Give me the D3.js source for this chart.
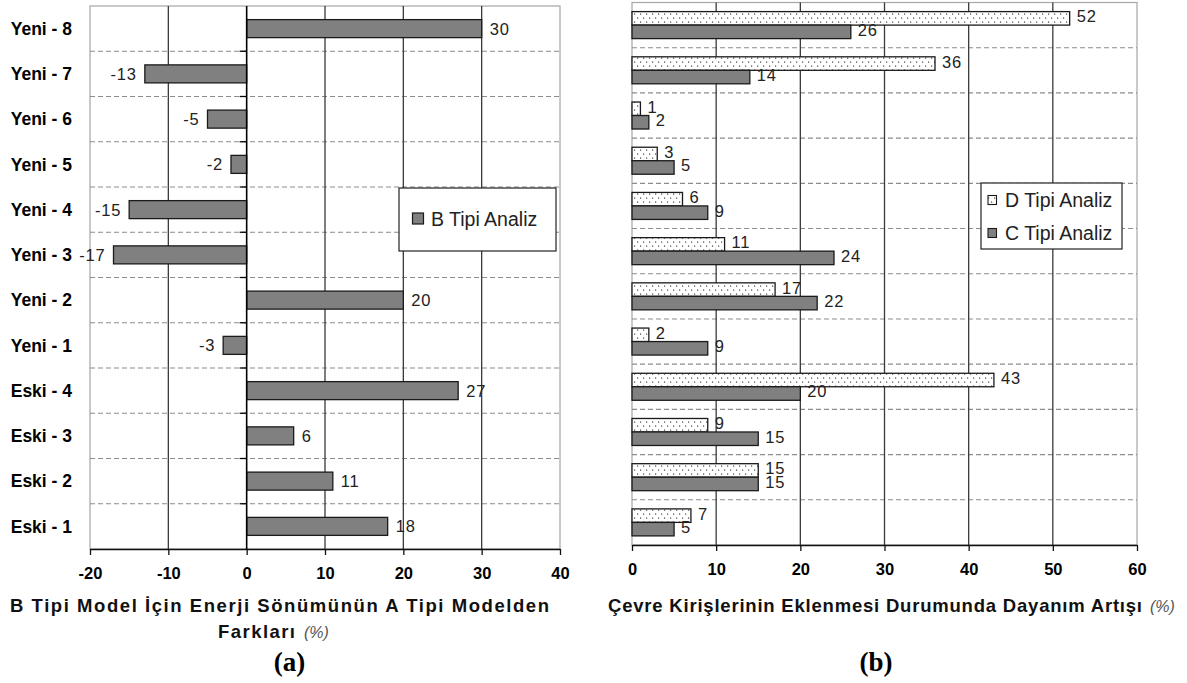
<!DOCTYPE html>
<html>
<head>
<meta charset="utf-8">
<script src="https://cdn.jsdelivr.net/npm/d3@7"></script>
<style>
  html, body { margin: 0; padding: 0; background: #fff; }
  svg { display: block; font-family: "Liberation Sans", Arial, sans-serif; }
</style>
</head>
<body>
<svg id="fig" width="1187" height="683"></svg>
<script>
// Categories, top to bottom
const categories = ["Yeni - 8", "Yeni - 7", "Yeni - 6", "Yeni - 5", "Yeni - 4", "Yeni - 3",
                    "Yeni - 2", "Yeni - 1", "Eski - 4", "Eski - 3", "Eski - 2", "Eski - 1"];

// (a) energy dissipation difference of type B model vs type A model (%)
const bTipi = [30, -13, -5, -2, -15, -17, 20, -3, 27, 6, 11, 18];

// (b) strength increase after adding perimeter beams (%)
const dTipi = [52, 36, 1, 3, 6, 11, 17, 2, 43, 9, 15, 7];
const cTipi = [26, 14, 2, 5, 9, 24, 22, 9, 20, 15, 15, 5];

const ticksA = [-20, -10, 0, 10, 20, 30, 40];
const ticksB = [0, 10, 20, 30, 40, 50, 60];

const seriesB = [
  { key: "D", name: "D Tipi Analiz", values: dTipi },
  { key: "C", name: "C Tipi Analiz", values: cTipi }
];

const svg = d3.select("#fig");
const FONT = "'Liberation Sans', Arial, sans-serif";
const BAR_FILL = "#808080";
const BAR_STROKE = "#1a1a1a";
const GRID = "#3a3a3a";
const BORDER = "#a6a6a6";
const DASH = "#8c8c8c";

// dotted fill used for the D series
const defs = svg.append("defs");
const pat = defs.append("pattern")
  .attr("id", "dots").attr("patternUnits", "userSpaceOnUse")
  .attr("width", 6).attr("height", 8);
pat.append("rect").attr("width", 6).attr("height", 8).attr("fill", "#fff");
pat.append("rect").attr("x", 1).attr("y", 1.5).attr("width", 1.2).attr("height", 1.2).attr("fill", "#444");
pat.append("rect").attr("x", 4).attr("y", 5.5).attr("width", 1.2).attr("height", 1.2).attr("fill", "#444");

function frame(g, x, y, ticks, zeroAxis) {
  const [x0, x1] = x.range();
  const [y0, y1] = y.range();
  // plot border
  g.append("rect").attr("x", x0).attr("y", y0).attr("width", x1 - x0).attr("height", y1 - y0)
    .attr("fill", "none").attr("stroke", BORDER).attr("stroke-width", 1.2);
  // dashed row separators
  g.selectAll(".sep").data(y.domain().slice(1)).join("line")
    .attr("x1", x0).attr("x2", x1)
    .attr("y1", d => y(d)).attr("y2", d => y(d))
    .attr("stroke", DASH).attr("stroke-width", 1.1).attr("stroke-dasharray", "5,3");
  // vertical grid at inner ticks
  g.selectAll(".vg").data(ticks.slice(1, -1).filter(t => t !== zeroAxis)).join("line")
    .attr("x1", d => x(d)).attr("x2", d => x(d))
    .attr("y1", y0).attr("y2", y1)
    .attr("stroke", GRID).attr("stroke-width", 1.3);
  // value axis
  const ax = g.append("g").attr("transform", `translate(0,${y1})`)
    .call(d3.axisBottom(x).tickValues(ticks).tickFormat(d => String(d))
      .tickSize(6).tickSizeOuter(0).tickPadding(12));
  ax.select(".domain").attr("stroke", "#111").attr("stroke-width", 1.3);
  ax.selectAll(".tick line").attr("stroke", "#111").attr("stroke-width", 1.3);
  ax.selectAll(".tick text").attr("font-family", FONT).attr("font-size", 16.5)
    .attr("font-weight", "bold").attr("fill", "#000");
}

// ---------- (a) ----------
const xA = d3.scaleLinear().domain([-20, 40]).range([90, 560]);
const yA = d3.scaleBand().domain(categories).range([6, 549]).padding(0);
const gA = svg.append("g");
frame(gA, xA, yA, ticksA, 0);

const barH = 18;
gA.selectAll(".bar").data(categories).join("rect")
  .attr("x", (d, i) => xA(Math.min(0, bTipi[i])))
  .attr("width", (d, i) => Math.abs(xA(bTipi[i]) - xA(0)))
  .attr("y", d => yA(d) + (yA.bandwidth() - barH) / 2)
  .attr("height", barH)
  .attr("fill", BAR_FILL).attr("stroke", BAR_STROKE).attr("stroke-width", 1.3);

// zero axis with category ticks
gA.append("line").attr("x1", xA(0)).attr("x2", xA(0)).attr("y1", yA.range()[0]).attr("y2", yA.range()[1])
  .attr("stroke", "#000").attr("stroke-width", 1.6);
gA.selectAll(".ctick").data(categories.slice(1)).join("line")
  .attr("x1", xA(0) - 7).attr("x2", xA(0))
  .attr("y1", d => yA(d)).attr("y2", d => yA(d))
  .attr("stroke", "#000").attr("stroke-width", 1.3);

gA.selectAll(".val").data(categories).join("text")
  .attr("x", (d, i) => bTipi[i] >= 0 ? xA(bTipi[i]) + 8 : xA(bTipi[i]) - 8)
  .attr("y", d => yA(d) + yA.bandwidth() / 2)
  .attr("dy", "0.36em")
  .attr("text-anchor", (d, i) => bTipi[i] >= 0 ? "start" : "end")
  .attr("font-family", FONT).attr("font-size", 16.5).attr("letter-spacing", 0.8)
  .attr("fill", "#222")
  .text((d, i) => bTipi[i]);

gA.selectAll(".cat").data(categories).join("text")
  .attr("x", 72).attr("y", d => yA(d) + yA.bandwidth() / 2)
  .attr("dy", "0.36em").attr("text-anchor", "end")
  .attr("font-family", FONT).attr("font-size", 17.5).attr("font-weight", "bold")
  .attr("fill", "#000")
  .text(d => d);

// legend (a)
const legA = gA.append("g");
legA.append("rect").attr("x", 399).attr("y", 188).attr("width", 157).attr("height", 63)
  .attr("fill", "#fff").attr("stroke", "#222").attr("stroke-width", 1.2);
legA.append("rect").attr("x", 412.5).attr("y", 213).attr("width", 11).attr("height", 11)
  .attr("fill", BAR_FILL).attr("stroke", BAR_STROKE).attr("stroke-width", 1.2);
legA.append("text").attr("x", 431).attr("y", 219).attr("dy", "0.36em")
  .attr("font-family", FONT).attr("font-size", 19.5).attr("fill", "#222")
  .text("B Tipi Analiz");

// axis title (a)
svg.append("text").attr("x", 10).attr("y", 612)
  .attr("font-family", FONT).attr("font-size", 18.5).attr("font-weight", "bold").attr("fill", "#111")
  .attr("textLength", 539).attr("lengthAdjust", "spacing")
  .text("B Tipi Model İçin Enerji Sönümünün A Tipi Modelden");
const tA2 = svg.append("text").attr("x", 218).attr("y", 638)
  .attr("font-family", FONT).attr("font-size", 18.5).attr("font-weight", "bold").attr("fill", "#111");
tA2.append("tspan").attr("textLength", 77).attr("lengthAdjust", "spacing").text("Farkları");
tA2.append("tspan").attr("x", 304).attr("font-size", 16).attr("font-weight", "normal")
  .attr("font-style", "italic").attr("fill", "#555").text("(%)");

svg.append("text").attr("x", 289.5).attr("y", 671).attr("text-anchor", "middle")
  .attr("font-family", "'Liberation Serif', 'Times New Roman', serif")
  .attr("font-size", 27).attr("font-weight", "bold").attr("fill", "#000").text("(a)");

// ---------- (b) ----------
const xB = d3.scaleLinear().domain([0, 60]).range([632, 1137]);
const yB = d3.scaleBand().domain(categories).range([2.5, 545]).padding(0);
const gB = svg.append("g");
frame(gB, xB, yB, ticksB, null);

const groupH = 27;
const ySub = d3.scaleBand().domain(seriesB.map(s => s.key)).range([0, groupH]).padding(0);

seriesB.forEach(s => {
  gB.selectAll(".bar" + s.key).data(categories).join("rect")
    .attr("x", xB(0))
    .attr("width", (d, i) => xB(s.values[i]) - xB(0))
    .attr("y", d => yB(d) + (yB.bandwidth() - groupH) / 2 + ySub(s.key))
    .attr("height", ySub.bandwidth())
    .attr("fill", s.key === "D" ? "url(#dots)" : BAR_FILL)
    .attr("stroke", BAR_STROKE).attr("stroke-width", 1.3);
});
seriesB.forEach(s => {
  gB.selectAll(".val" + s.key).data(categories).join("text")
    .attr("x", (d, i) => xB(s.values[i]) + 7)
    .attr("y", d => yB(d) + (yB.bandwidth() - groupH) / 2 + ySub(s.key) + ySub.bandwidth() / 2 - 2)
    .attr("dy", "0.36em")
    .attr("font-family", FONT).attr("font-size", 16.5).attr("letter-spacing", 0.8)
    .attr("fill", "#222")
    .text((d, i) => s.values[i]);
});

// legend (b)
const legB = gB.append("g");
legB.append("rect").attr("x", 981).attr("y", 183).attr("width", 141).attr("height", 66)
  .attr("fill", "#fff").attr("stroke", "#222").attr("stroke-width", 1.2);
const legY = d3.scalePoint().domain(seriesB.map(s => s.key)).range([200, 233]);
seriesB.forEach(s => {
  legB.append("rect").attr("x", 988).attr("y", legY(s.key) - 4.5).attr("width", 8.5).attr("height", 9)
    .attr("fill", s.key === "D" ? "url(#dots)" : BAR_FILL)
    .attr("stroke", BAR_STROKE).attr("stroke-width", 1.1);
  legB.append("text").attr("x", 1005).attr("y", legY(s.key)).attr("dy", "0.36em")
    .attr("font-family", FONT).attr("font-size", 19.5).attr("fill", "#222")
    .text(s.name);
});

// axis title (b)
const tB = svg.append("text").attr("x", 608).attr("y", 612)
  .attr("font-family", FONT).attr("font-size", 18.5).attr("font-weight", "bold").attr("fill", "#111");
tB.append("tspan").attr("textLength", 534).attr("lengthAdjust", "spacing")
  .text("Çevre Kirişlerinin Eklenmesi Durumunda Dayanım Artışı");
tB.append("tspan").attr("x", 1150).attr("font-size", 16).attr("font-weight", "normal")
  .attr("font-style", "italic").attr("fill", "#555").text("(%)");

svg.append("text").attr("x", 876).attr("y", 671).attr("text-anchor", "middle")
  .attr("font-family", "'Liberation Serif', 'Times New Roman', serif")
  .attr("font-size", 27).attr("font-weight", "bold").attr("fill", "#000").text("(b)");
</script>
</body>
</html>
